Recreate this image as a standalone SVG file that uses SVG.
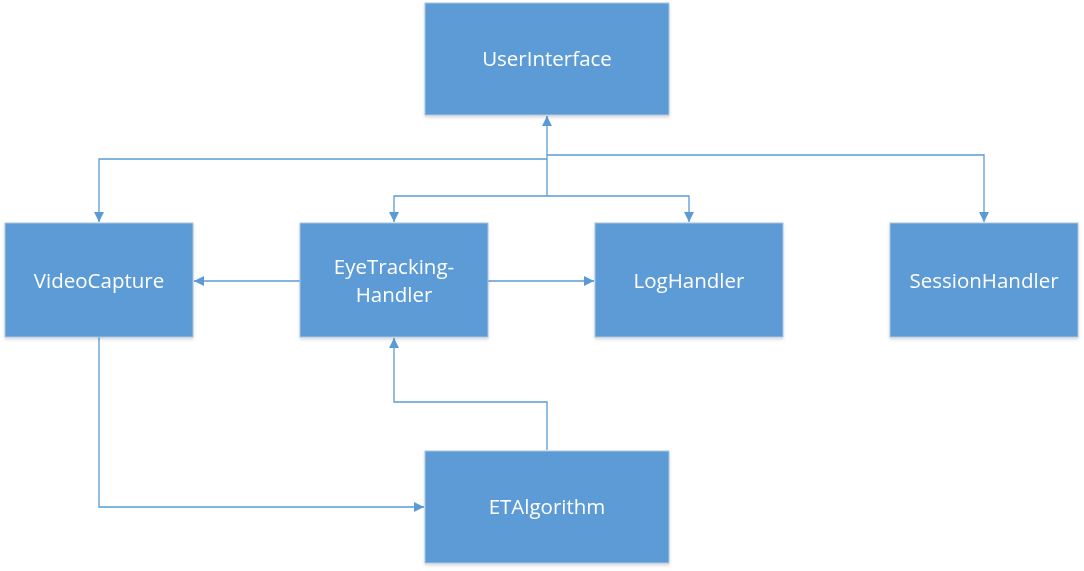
<svg xmlns="http://www.w3.org/2000/svg" width="1084" height="571" viewBox="0 0 1084 571">
<defs>
<style>
.box{fill:#5B9BD5;stroke:#A9C4E3;stroke-width:1}
.lbl{font-family:"Open Sans","Noto Sans","Liberation Sans",sans-serif;font-size:20.5px;fill:#FFFFFF;text-anchor:middle}
.edge{fill:none;stroke:#5B9BD5;stroke-width:1.3}
</style>
<marker id="ah" viewBox="0 0 10 10" refX="10" refY="5" markerWidth="10" markerHeight="10" markerUnits="userSpaceOnUse" orient="auto">
<path d="M0,0 L10,5 L0,10 Z" fill="#5B9BD5"/>
</marker>
<filter id="sh" x="-5%" y="-5%" width="110%" height="115%">
<feDropShadow dx="0" dy="2" stdDeviation="1.5" flood-color="#000" flood-opacity="0.15"/>
</filter>
</defs>
<rect width="1084" height="571" fill="#FFFFFF"/>
<g id="connectors">
<path class="edge" d="M547,196 L547,116" marker-end="url(#ah)"/>
<path class="edge" d="M547,159 L99,159 L99,222" marker-end="url(#ah)"/>
<path class="edge" d="M547,155 L984,155 L984,222" marker-end="url(#ah)"/>
<path class="edge" d="M547,196 L394,196 L394,222" marker-end="url(#ah)"/>
<path class="edge" d="M547,196 L689,196 L689,222" marker-end="url(#ah)"/>
<path class="edge" d="M300,281 L194,281" marker-end="url(#ah)"/>
<path class="edge" d="M488,281 L594,281" marker-end="url(#ah)"/>
<path class="edge" d="M99,337 L99,507 L424,507" marker-end="url(#ah)"/>
<path class="edge" d="M547,450 L547,402 L394,402 L394,338" marker-end="url(#ah)"/>
</g>
<g id="UserInterface" filter="url(#sh)">
<rect class="box" x="425" y="3" width="244" height="112"/>
<text class="lbl" x="547" y="66">UserInterface</text>
</g>
<g id="VideoCapture" filter="url(#sh)">
<rect class="box" x="5" y="223" width="188" height="114"/>
<text class="lbl" x="99" y="288">VideoCapture</text>
</g>
<g id="EyeTrackingHandler" filter="url(#sh)">
<rect class="box" x="300" y="223" width="188" height="114"/>
<text class="lbl" x="394" y="274">EyeTracking-</text>
<text class="lbl" x="394" y="302">Handler</text>
</g>
<g id="LogHandler" filter="url(#sh)">
<rect class="box" x="595" y="223" width="188" height="114"/>
<text class="lbl" x="689" y="288">LogHandler</text>
</g>
<g id="SessionHandler" filter="url(#sh)">
<rect class="box" x="890" y="223" width="188" height="114"/>
<text class="lbl" x="984" y="288">SessionHandler</text>
</g>
<g id="ETAlgorithm" filter="url(#sh)">
<rect class="box" x="425" y="451" width="244" height="112"/>
<text class="lbl" x="547" y="514">ETAlgorithm</text>
</g>
</svg>
